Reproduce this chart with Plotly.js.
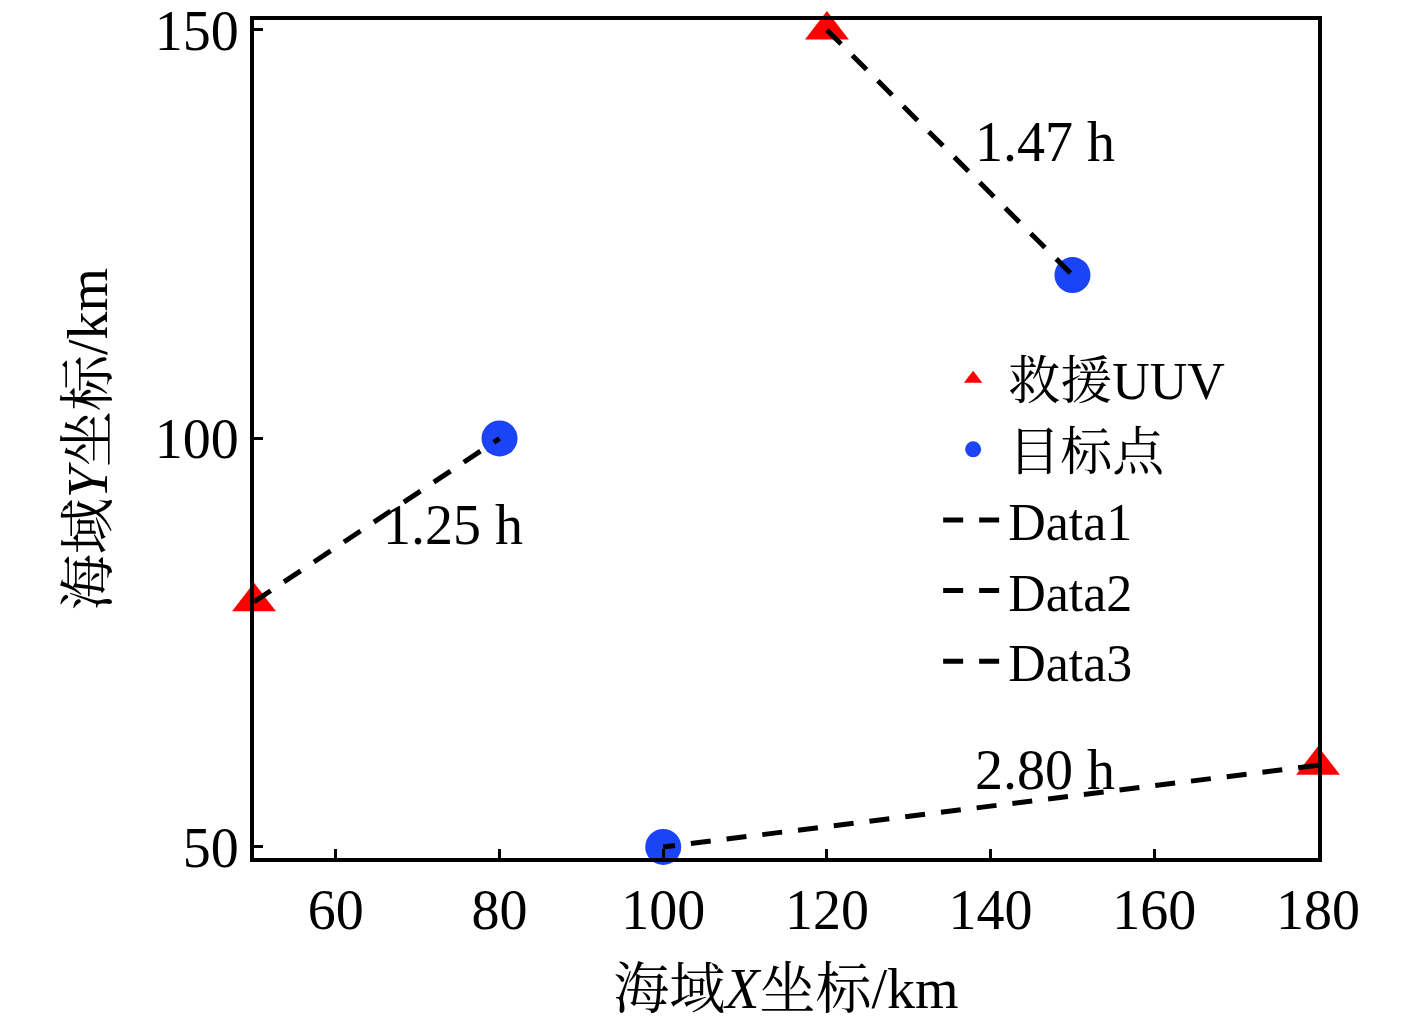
<!DOCTYPE html>
<html>
<head>
<meta charset="utf-8">
<script src="https://cdn.plot.ly/plotly-3.0.1.min.js"></script>
<style>html,body{margin:0;padding:0;background:#fff;}#chart{width:1417px;height:1025px;}</style>
</head>
<body>
<div id="chart"></div>
<script>
// Data
const uuvX = [50, 120, 180];
const uuvY = [80, 150, 60];
const targetX = [80, 150, 100];
const targetY = [100, 120, 50];
const pathNames = ["Data1", "Data2", "Data3"];
const pathTimes = ["1.25 h", "1.47 h", "2.80 h"];
const labelX = [74.3, 146.7, 146.7];
const labelY = [89.4, 136.3, 59.4];
const xTicks = [60, 80, 100, 120, 140, 160, 180];
const yTicks = [50, 100, 150];

const FONT = "'Liberation Serif', 'Times New Roman', 'Noto Serif CJK SC', 'Noto Sans CJK SC', serif";

const traces = [];
traces.push({
  x: uuvX, y: uuvY, mode: 'markers', type: 'scatter', name: '救援UUV',
  marker: {symbol: 'triangle-up', size: 38, color: '#ff0000'},
  cliponaxis: false
});
traces.push({
  x: targetX, y: targetY, mode: 'markers', type: 'scatter', name: '目标点',
  marker: {symbol: 'circle', size: 36, color: '#1a44f5'},
  cliponaxis: false
});
for (let i = 0; i < pathNames.length; i++) {
  traces.push({
    x: [uuvX[i], targetX[i]], y: [uuvY[i], targetY[i]],
    mode: 'lines', type: 'scatter', name: pathNames[i],
    line: {color: '#000', width: 5, dash: '20px,16px'},
    cliponaxis: false
  });
}

const annotations = pathTimes.map((t, i) => ({
  x: labelX[i], y: labelY[i], xref: 'x', yref: 'y', text: t, showarrow: false,
  font: {family: FONT, size: 56, color: '#000'}
}));

const layout = {
  width: 1417, height: 1025,
  margin: {l: 254, r: 99, t: 20, b: 167, pad: 0},
  paper_bgcolor: '#fff', plot_bgcolor: '#fff',
  font: {family: FONT, size: 56, color: '#000'},
  showlegend: true,
  legend: {
    x: 0.643, y: 0.62, xanchor: 'left', yanchor: 'top',
    bgcolor: 'rgba(0,0,0,0)', borderwidth: 0,
    font: {family: FONT, size: 52, color: '#000'},
    tracegroupgap: 0, itemwidth: 60
  },
  xaxis: {
    range: [50, 180], tickvals: xTicks, ticktext: xTicks.map(String),
    showgrid: false, zeroline: false, showline: true, linecolor: '#000', linewidth: 4, mirror: true,
    ticks: 'inside', ticklen: 9, tickwidth: 3, tickcolor: '#000', ticklabeloverflow: 'allow',
    tickfont: {family: FONT, size: 56, color: '#000'},
    title: {text: '海域<i>X</i>坐标/km', font: {family: FONT, size: 56, color: '#000'}, standoff: 30}
  },
  yaxis: {
    range: [48.65, 151.22], tickvals: yTicks, ticktext: yTicks.map(String),
    showgrid: false, zeroline: false, showline: true, linecolor: '#000', linewidth: 4, mirror: true,
    ticks: 'inside', ticklen: 9, tickwidth: 3, tickcolor: '#000', ticklabeloverflow: 'allow',
    tickfont: {family: FONT, size: 56, color: '#000'},
    title: {text: '海域<i>Y</i>坐标/km', font: {family: FONT, size: 56, color: '#000'}, standoff: 30}
  },
  annotations: annotations
};

Plotly.newPlot('chart', traces, layout, {staticPlot: true, displayModeBar: false});
</script>
</body>
</html>
